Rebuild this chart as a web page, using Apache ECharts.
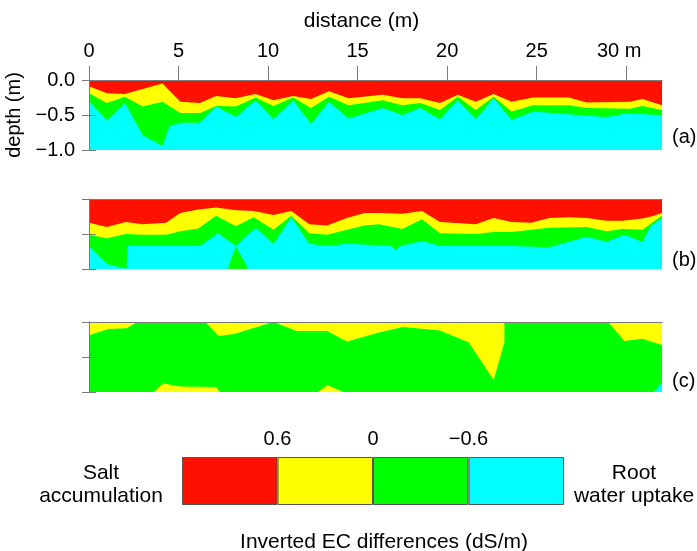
<!DOCTYPE html>
<html><head><meta charset="utf-8">
<script src="https://cdn.jsdelivr.net/npm/echarts@6/dist/echarts.min.js"></script>
<style>html,body{margin:0;padding:0;background:#fff}#c{width:697px;height:551px}</style>
</head><body><div id="c"></div>
<script>
// ---------------- data ----------------
const distanceTicks = [0, 5, 10, 15, 20, 25, 30];
const depthTicks = [0, -0.5, -1];
const rightDepthTicks = [-0.5, -1];
const panelLabels = ['(a)', '(b)', '(c)'];
const legendClasses = ['> 0.6', '0 to 0.6', '−0.6 to 0', '< −0.6'];
const legendTickValues = [1, 2, 3];
const legendTickLabels = ['0.6', '0', '−0.6'];

// panel (a): boundaries [distance m, depth m]
const aTop = [[0, 0], [32, 0]];
const aRedBottom = [[0,-0.09],[1.0,-0.19],[2.0,-0.2],[4.1,-0.05],[5.1,-0.31],[6.2,-0.33],[7.1,-0.23],[8.2,-0.26],[9.3,-0.2],[10.3,-0.29],[11.4,-0.23],[12.4,-0.27],[13.4,-0.16],[14.5,-0.26],[16.4,-0.21],[17.5,-0.26],[18.5,-0.26],[19.6,-0.33],[20.6,-0.21],[21.6,-0.31],[22.6,-0.2],[23.6,-0.31],[24.8,-0.25],[26.8,-0.25],[27.8,-0.32],[30.2,-0.31],[30.9,-0.27],[32,-0.36]];
const aYellowBottom = [[0,-0.19],[1.0,-0.33],[2.0,-0.24],[3.0,-0.38],[4.1,-0.31],[5.1,-0.47],[6.2,-0.47],[7.1,-0.37],[8.2,-0.38],[9.3,-0.25],[10.3,-0.37],[11.4,-0.25],[12.4,-0.4],[13.4,-0.24],[14.5,-0.36],[16.4,-0.29],[17.5,-0.36],[18.5,-0.33],[19.6,-0.43],[20.6,-0.24],[21.6,-0.43],[22.6,-0.24],[23.6,-0.45],[24.8,-0.36],[26.8,-0.36],[27.8,-0.4],[30.2,-0.41],[30.9,-0.37],[32,-0.43]];
const aCyanTop = [[0,-0.3],[1.0,-0.58],[2.0,-0.33],[3.0,-0.79],[4.1,-0.94],[4.5,-0.66],[5.1,-0.61],[6.2,-0.61],[7.1,-0.38],[8.2,-0.53],[9.3,-0.29],[10.3,-0.56],[11.4,-0.29],[12.4,-0.63],[13.4,-0.31],[14.5,-0.55],[16.4,-0.4],[17.5,-0.5],[18.5,-0.4],[19.6,-0.56],[20.6,-0.29],[21.6,-0.56],[22.6,-0.26],[23.6,-0.57],[24.8,-0.45],[26.8,-0.49],[28.9,-0.53],[30.0,-0.48],[30.9,-0.49],[32,-0.5]];

// panel (b)
const bTop = [[0, 0], [32, 0]];
const bRedBottom = [[0,-0.34],[1.0,-0.40],[2.06,-0.33],[3.0,-0.36],[4.3,-0.34],[5.1,-0.2],[6.1,-0.15],[7.1,-0.12],[8.2,-0.16],[9.2,-0.17],[10.3,-0.23],[11.3,-0.17],[12.3,-0.36],[13.3,-0.38],[14.4,-0.27],[15.4,-0.2],[16.2,-0.2],[17.5,-0.21],[18.6,-0.17],[19.6,-0.33],[21.6,-0.36],[22.6,-0.27],[23.6,-0.33],[24.7,-0.34],[25.7,-0.27],[26.8,-0.26],[27.8,-0.27],[28.9,-0.31],[29.8,-0.31],[30.9,-0.28],[31.4,-0.25],[32,-0.2]];
const bYellowBottom = [[0,-0.51],[1.0,-0.56],[2.06,-0.5],[3.0,-0.51],[4.3,-0.51],[5.1,-0.46],[6.1,-0.42],[7.1,-0.24],[8.2,-0.39],[9.2,-0.26],[10.3,-0.44],[11.3,-0.24],[12.3,-0.49],[13.3,-0.51],[14.4,-0.44],[15.4,-0.38],[16.2,-0.36],[17.5,-0.43],[18.6,-0.29],[19.6,-0.49],[21.6,-0.5],[22.6,-0.47],[23.6,-0.47],[25.7,-0.41],[27.8,-0.4],[28.9,-0.46],[29.8,-0.43],[30.9,-0.44],[31.5,-0.33],[32,-0.24]];
const bCyanTop = [[0,-0.67],[1.0,-0.93],[2.1,-1.0],[2.15,-0.67],[4.0,-0.67],[6.2,-0.67],[7.2,-0.49],[8.2,-0.67],[9.3,-0.41],[10.3,-0.64],[11.3,-0.26],[12.3,-0.64],[13.3,-0.67],[14.4,-0.64],[16.2,-0.66],[16.9,-0.67],[17.1,-0.73],[17.4,-0.67],[18.6,-0.6],[19.6,-0.67],[23.6,-0.67],[25.7,-0.69],[27.8,-0.54],[28.9,-0.61],[29.9,-0.51],[30.9,-0.61],[31.4,-0.38],[32,-0.27]];
const bGreenPatch = [[7.75,-1],[8.2,-0.67],[8.9,-1]];

// panel (c)
const cTop = [[0, 0], [32, 0]];
const cGreenTop = [[0,-0.19],[1.07,-0.1],[2.1,-0.09],[2.7,0],[6.5,0],[7.25,-0.2],[8.1,-0.17],[10.3,0],[11.6,-0.13],[13.3,-0.13],[14.4,-0.28],[16.2,-0.15],[17.5,-0.07],[19.6,-0.12],[21.2,-0.29],[22.6,-0.83],[23.2,-0.29],[23.2,0],[29.0,0],[29.9,-0.27],[30.9,-0.24],[32,-0.33]];
const cYellowPatch1 = [[3.6,-1],[4.15,-0.88],[5.1,-0.92],[7.1,-0.93],[7.3,-1]];
const cYellowPatch2 = [[12.8,-1],[13.3,-0.9],[14.2,-1]];
const cCyanCorner = [[31.55,-1],[32,-0.86]];

// ---------------- styles ----------------
const RED = '#ff1100', YEL = '#ffff00', GRN = '#00ff00', CYA = '#00ffff';
const AX = '#7a7a7a';
const FONT = 'Liberation Sans, Arial, sans-serif';

const chart = echarts.init(document.getElementById('c'), null, {renderer: 'canvas'});

const grids = [
  {left: 89, top: 80, width: 573, height: 70},
  {left: 89, top: 199, width: 573, height: 70},
  {left: 89, top: 322, width: 573, height: 70},
  {left: 182, top: 457, width: 382, height: 48}
].map(g => Object.assign({outerBoundsMode: 'none', containLabel: false}, g));

function xLine(gi, pos) {
  return {type: 'value', gridIndex: gi, position: pos, min: 0, max: 32, z: 20,
    axisLine: {show: true, lineStyle: {color: AX, width: 1}},
    axisTick: {show: false}, axisLabel: {show: false}, splitLine: {show: false}};
}
function yLine(gi, pos, ticks, labels) {
  return {type: 'value', gridIndex: gi, position: pos, min: -1, max: 0, interval: 0.5, z: 20,
    axisLine: {show: true, lineStyle: {color: AX, width: 1}},
    axisTick: {show: true, length: 7, inside: false, lineStyle: {color: AX}, customValues: ticks},
    axisLabel: labels ? {show: true, margin: 14, color: '#000', fontSize: 20, fontFamily: FONT,
      customValues: depthTicks,
      formatter: v => (v === 0 ? '0.0' : '−' + Math.abs(v).toFixed(1))} : {show: false},
    splitLine: {show: false}};
}

const topAxis = xLine(0, 'top');
topAxis.axisTick = {show: true, length: 14, lineStyle: {color: AX}, customValues: distanceTicks};
topAxis.axisLabel = {show: true, margin: 19, color: '#000', fontSize: 20, fontFamily: FONT,
  customValues: distanceTicks,
  formatter: v => (v === 30 ? '{m|30 m}' : String(v)),
  rich: {m: {fontSize: 20, fontFamily: FONT, color: '#000', padding: [0, 14, 0, 0]}}};
topAxis.name = 'distance (m)';
topAxis.nameLocation = 'middle';
topAxis.nameGap = 48;
topAxis.nameTextStyle = {fontSize: 21, fontFamily: FONT, color: '#000', padding: [0, 28, 0, 0]};

const leftA = yLine(0, 'left', depthTicks, true);
leftA.name = 'depth (m)';
leftA.nameLocation = 'middle';
leftA.nameRotate = 90;
leftA.nameGap = 54;
leftA.nameTextStyle = {fontSize: 20, fontFamily: FONT, color: '#000'};

const xAxes = [
  topAxis, xLine(0, 'bottom'),
  xLine(1, 'top'), xLine(1, 'bottom'),
  xLine(2, 'top'), xLine(2, 'bottom'),
  {type: 'category', gridIndex: 3, position: 'bottom', data: legendClasses, show: false},
  {type: 'value', gridIndex: 3, position: 'top', min: 0, max: 4, z: 20,
    axisLine: {show: false}, axisTick: {show: false}, splitLine: {show: false},
    axisLabel: {show: true, margin: 8, color: '#000', fontSize: 20, fontFamily: FONT,
      customValues: legendTickValues,
      formatter: v => legendTickLabels[legendTickValues.indexOf(v)] || ''}}
];
const yAxes = [
  leftA, yLine(0, 'right', rightDepthTicks, false),
  yLine(1, 'left', depthTicks, false), yLine(1, 'right', rightDepthTicks, false),
  yLine(2, 'left', depthTicks, false), yLine(2, 'right', rightDepthTicks, false),
  {type: 'value', gridIndex: 3, min: 0, max: 1, show: false}
];

let zc = 2;
function area(data, color, ai) {
  return {type: 'line', xAxisIndex: ai, yAxisIndex: ai, data: data, symbol: 'none', showSymbol: false,
    lineStyle: {width: 0, opacity: 0}, areaStyle: {color: color, opacity: 1, origin: 'start'},
    silent: true, animation: false, z: zc++};
}

const series = [
  area(aTop, RED, 0), area(aRedBottom, YEL, 0), area(aYellowBottom, GRN, 0), area(aCyanTop, CYA, 0),
  area(bTop, RED, 2), area(bRedBottom, YEL, 2), area(bYellowBottom, GRN, 2), area(bCyanTop, CYA, 2), area(bGreenPatch, GRN, 2),
  area(cTop, YEL, 4), area(cGreenTop, GRN, 4), area(cYellowPatch1, YEL, 4), area(cYellowPatch2, YEL, 4), area(cCyanCorner, CYA, 4),
  {type: 'bar', xAxisIndex: 6, yAxisIndex: 6, barCategoryGap: '0%', barGap: '0%', silent: true, animation: false,
    data: legendClasses.map((c, i) => ({value: 1, itemStyle: {color: [RED, YEL, GRN, CYA][i], borderColor: '#555', borderWidth: 1}}))}
];

const txt = (x, y, text, size, align) => ({type: 'text', x: x, y: y, silent: true,
  style: {text: text, fill: '#000', font: size + 'px ' + FONT, textAlign: align || 'center', textVerticalAlign: 'middle', lineHeight: 23}});

const graphic = [
  txt(672, 137, panelLabels[0], 20, 'left'),
  txt(672, 260, panelLabels[1], 20, 'left'),
  txt(672, 381, panelLabels[2], 20, 'left'),
  txt(101, 485, 'Salt\naccumulation', 21),
  txt(634, 485, 'Root\nwater uptake', 21),
  txt(384, 542, 'Inverted EC differences (dS/m)', 21)
];

chart.setOption({
  animation: false,
  backgroundColor: '#fff',
  grid: grids, xAxis: xAxes, yAxis: yAxes, series: series, graphic: graphic
});
</script></body></html>
